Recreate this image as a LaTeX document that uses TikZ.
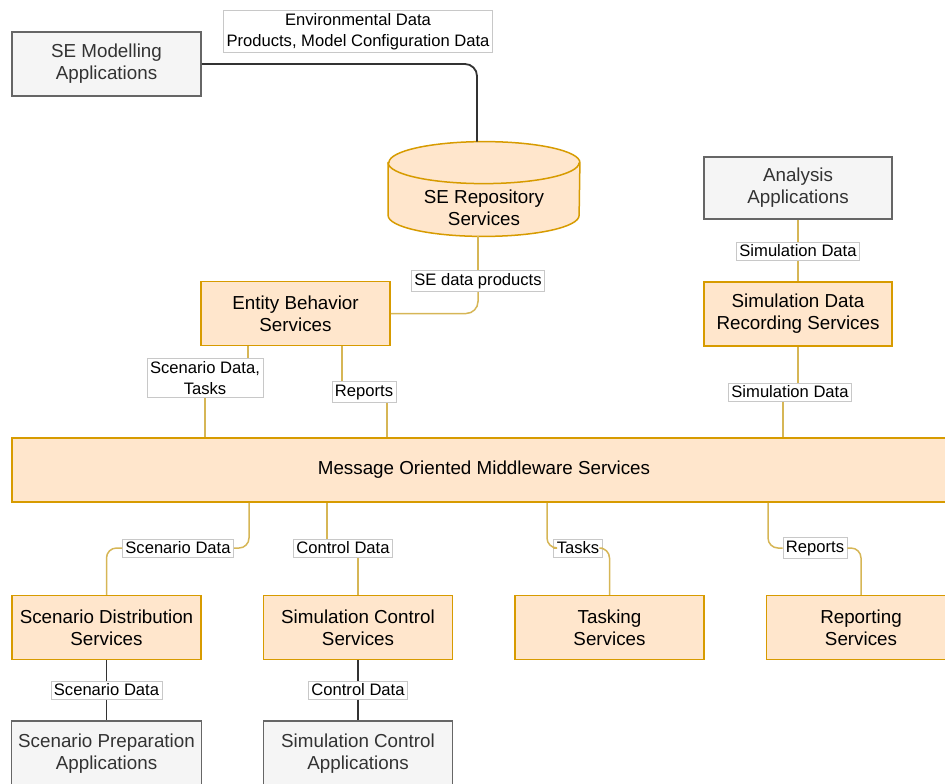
\documentclass[tikz,border=0pt]{standalone}
\usepackage{fontspec}
\setmainfont{Liberation Sans}
\definecolor{svcfill}{HTML}{FFE6CC}
\definecolor{svcline}{HTML}{D79B00}
\definecolor{appfill}{HTML}{F5F5F5}
\definecolor{appline}{HTML}{666666}
\definecolor{apptext}{HTML}{333333}
\definecolor{linkcol}{HTML}{D6B656}
\definecolor{lblline}{HTML}{C8C8C8}
\tikzset{
  svc/.style={draw=svcline, fill=svcfill, line width=0.75pt, minimum width=94.5pt, minimum height=32pt, align=center, font=\fontsize{9.4}{11}\selectfont},
  app/.style={draw=appline, fill=appfill, text=apptext, line width=0.75pt, minimum width=94.5pt, minimum height=32pt, align=center, font=\fontsize{9.4}{11}\selectfont},
  lbl/.style={draw=lblline, fill=white, line width=0.4pt, inner xsep=1.5pt, inner ysep=1.5pt, align=center, font=\fontsize{8.3}{10.5}\selectfont},
  link/.style={draw=linkcol, line width=0.75pt},
  darklink/.style={draw=black!80, line width=0.9pt}
}
\begin{document}
\begin{tikzpicture}[x=0.5pt,y=-0.5pt]
\useasboundingbox (0,0) rectangle (945,783);
\clip (0,0) rectangle (945,783);
% top part
\node[app] (semod) at (106.5,64) {SE Modelling\\Applications};
\node[lbl] (envlbl) at (358,31.5) {Environmental Data\\Products, Model Configuration Data};
\node[inner sep=0pt, minimum width=95.5pt, minimum height=47pt] (repo) at (484,189) {};
\draw[draw=svcline, fill=svcfill, line width=0.75pt] (repo.north west) ++(0,-10.5pt) -- ([yshift=10.5pt]repo.south west) arc (180:360:47.75pt and 10.5pt) -- ([yshift=-10.5pt]repo.north east) arc (0:180:47.75pt and 10.5pt) -- cycle;
\draw[draw=svcline, line width=0.75pt] ([yshift=-10.5pt]repo.north west) arc (180:360:47.75pt and 10.5pt);
\node[align=center, font=\fontsize{9.4}{11}\selectfont] (repotxt) at ([yshift=-9.5pt]repo.center) {SE Repository\\Services};
\node[lbl] (sedlbl) at (478,281) {SE data products};
\node[svc] (ent) at (295.5,313.5) {Entity Behavior\\Services};
\node[app, minimum width=94pt, minimum height=31pt] (ana) at (798,188) {Analysis\\Applications};
\node[lbl] (simlbla) at (798,251) {Simulation Data};
\node[svc, minimum width=94pt] (rec) at (798,314) {Simulation Data\\Recording Services};
\node[lbl] (simlblb) at (790,392) {Simulation Data};
\node[lbl] (scnlbl) at (205,378) {Scenario Data,\\Tasks};
\node[lbl] (replbl) at (364,392) {Reports};
% middleware
\node[svc, minimum width=472pt] (mw) at (484,470) {Message Oriented Middleware Services};
% bottom part
\node[lbl] (scnlblb) at (178,548) {Scenario Data};
\node[lbl] (ctllbl) at (343,548) {Control Data};
\node[lbl] (tsklbl) at (578,548) {Tasks};
\node[lbl] (rptlbl) at (815,548) {Reports};
\node[svc] (dist) at (106.5,627.5) {Scenario Distribution\\Services};
\node[svc] (ctl) at (358,627.5) {Simulation Control\\Services};
\node[svc] (task) at (609.5,627.5) {Tasking\\Services};
\node[svc] (rpt) at (861,627.5) {Reporting\\Services};
\node[lbl] (prelbl) at (106.5,690) {Scenario Data};
\node[lbl] (ctllblb) at (358,690) {Control Data};
\node[app, minimum height=33pt] (prep) at (106.5,754) {Scenario Preparation\\Applications};
\node[app, minimum height=33pt] (ctlapp) at (358,754) {Simulation Control\\Applications};
% connectors
\draw[darklink, rounded corners=6pt] (semod.east) -| ([xshift=-3.5pt]repo.north);
\draw[link] (sedlbl.north |- repo.south) -- (sedlbl.north);
\draw[link, rounded corners=6pt] (sedlbl.south) |- (ent.east);
\draw[link] (ana.south) -- (simlbla.north);
\draw[link] (simlbla.south) -- (rec.north);
\draw[link] (rec.south) -- (rec.south |- simlblb.north);
\draw[link] ([xshift=-3.5pt]simlblb.south) -- ([xshift=-3.5pt]simlblb.south |- mw.north);
\draw[link] ([xshift=-23.75pt]ent.south) -- ([xshift=-23.75pt]ent.south |- scnlbl.north);
\draw[link] (scnlbl.south) -- (scnlbl.south |- mw.north);
\draw[link] ([xshift=23.25pt]ent.south) -- ([xshift=23.25pt]ent.south |- replbl.north);
\draw[link] ([xshift=11.5pt]replbl.south) -- ([xshift=11.5pt]replbl.south |- mw.north);
\draw[link, rounded corners=5pt] ([xshift=-117.5pt]mw.south) |- (scnlblb.east);
\draw[link, rounded corners=5pt] (scnlblb.west) -| (dist.north);
\draw[link] ([xshift=-78.5pt]mw.south) -- ([xshift=-78.5pt]mw.south |- ctllbl.north);
\draw[link] (ctl.north |- ctllbl.south) -- (ctl.north);
\draw[link, rounded corners=5pt] ([xshift=31.5pt]mw.south) |- (tsklbl.west);
\draw[link, rounded corners=5pt] (tsklbl.east) -| (task.north);
\draw[link, rounded corners=5pt] ([xshift=142pt]mw.south) |- (rptlbl.west);
\draw[link, rounded corners=5pt] (rptlbl.east) -| (rpt.north);
\draw[darklink] (dist.south) -- (prelbl.north);
\draw[darklink] (prelbl.south) -- (prep.north);
\draw[darklink] (ctl.south) -- (ctllblb.north);
\draw[darklink] (ctllblb.south) -- (ctlapp.north);
\end{tikzpicture}
\end{document}
